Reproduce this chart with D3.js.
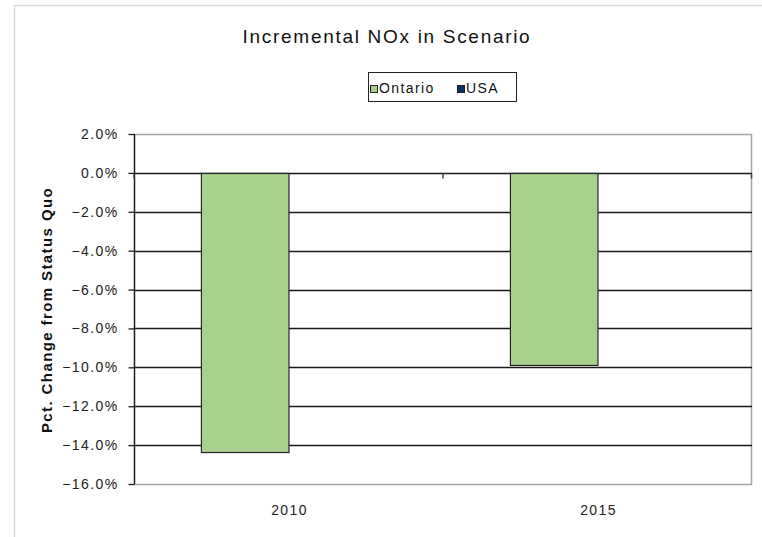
<!DOCTYPE html>
<html>
<head>
<meta charset="utf-8">
<script src="https://cdn.jsdelivr.net/npm/d3@7"></script>
<style>
  html, body { margin: 0; padding: 0; background: #fff; }
  svg { display: block; font-family: "Liberation Sans", Arial, sans-serif; }
</style>
</head>
<body>
<svg id="chart" width="762" height="537"></svg>
<script>
const categories = ["2010", "2015"];
const seriesNames = ["Ontario", "USA"];
const ontario = [-0.1435, -0.0987];
const usa = [0.0, 0.0];
const yTicks = [0.02, 0.0, -0.02, -0.04, -0.06, -0.08, -0.10, -0.12, -0.14, -0.16];
const colors = ["#A9D18E", "#0B2F5E"];

const svg = d3.select("#chart");
const L = 134, R = 752, T = 134, B = 484;

// outer frame (top & left visible)
svg.append("path").attr("d", "M14.5,537 L14.5,5.5 L762,5.5")
  .attr("fill", "none").attr("stroke", "#d9d9d9").attr("stroke-width", 1.5);

const y = d3.scaleLinear().domain([-0.16, 0.02]).range([B, T]);
const x0 = d3.scaleBand().domain(categories).range([L, R]).paddingInner(0).paddingOuter(0);
const x1 = d3.scaleBand().domain(seriesNames).range([0, x0.bandwidth()]).paddingInner(0).paddingOuter(0.764);

// plot area border
svg.append("rect").attr("x", L + 0.5).attr("y", T + 0.5).attr("width", R - L - 1).attr("height", B - T)
  .attr("fill", "none").attr("stroke", "#a6a6a6").attr("stroke-width", 1.5);

// gridlines
svg.append("g").selectAll("line").data(yTicks.filter(t => t < 0.02 && t > -0.16)).join("line")
  .attr("x1", L).attr("x2", R).attr("y1", d => Math.round(y(d)) + 0.5).attr("y2", d => Math.round(y(d)) + 0.5)
  .attr("stroke", "#1a1a1a").attr("stroke-width", 1.3);

// bars
const data = [];
categories.forEach((c, i) => {
  data.push({ cat: c, s: "Ontario", v: ontario[i] });
  data.push({ cat: c, s: "USA", v: usa[i] });
});
svg.append("g").selectAll("rect").data(data.filter(d => d.v !== 0)).join("rect")
  .attr("x", d => x0(d.cat) + x1(d.s) + 0.5)
  .attr("y", d => Math.round(y(Math.max(0, d.v))) + 0.5)
  .attr("width", x1.bandwidth())
  .attr("height", d => Math.abs(y(d.v) - y(0)))
  .attr("fill", d => colors[seriesNames.indexOf(d.s)])
  .attr("stroke", "#262626").attr("stroke-width", 1.2);

// y axis
const yAxis = d3.axisLeft(y).tickValues(yTicks).tickSize(6).tickPadding(10)
  .tickFormat(d => d3.format(".1f")(d * 100) + "%");
const ya = svg.append("g").attr("transform", `translate(${L + 0.5},0)`).call(yAxis);
ya.select(".domain").attr("stroke", "#1a1a1a").attr("stroke-width", 1.3).attr("d", `M0,${T}V${B}`);
ya.selectAll(".tick line").attr("stroke", "#1a1a1a").attr("stroke-width", 1.3);
ya.selectAll(".tick text").attr("font-size", 14).attr("fill", "#222")
  .attr("font-family", "Liberation Sans, Arial, sans-serif").style("letter-spacing", "1.4px");

// category axis ticks at zero
const zeroY = Math.round(y(0)) + 0.5;
svg.append("g").selectAll("line").data([...categories.map(c => x0(c)), R - 0.5]).join("line")
  .attr("x1", d => d).attr("x2", d => d).attr("y1", zeroY).attr("y2", zeroY + 5)
  .attr("stroke", "#444").attr("stroke-width", 1.5);

// category labels at bottom
svg.append("g").selectAll("text").data(categories).join("text")
  .attr("x", d => x0(d) + x0.bandwidth() / 2 + 1).attr("y", 515)
  .attr("text-anchor", "middle").attr("font-size", 14).attr("fill", "#222")
  .style("letter-spacing", "1.4px").text(d => d);

// title
svg.append("text").attr("x", 387).attr("y", 43).attr("text-anchor", "middle")
  .attr("font-size", 19).attr("fill", "#111").style("letter-spacing", "1.7px")
  .text("Incremental NOx in Scenario");

// y title
svg.append("text").attr("transform", "translate(52,310) rotate(-90)")
  .attr("text-anchor", "middle").attr("font-size", 15).attr("font-weight", "bold").attr("fill", "#111")
  .style("letter-spacing", "1.4px")
  .text("Pct. Change from Status Quo");

// legend
const lg = svg.append("g");
lg.append("rect").attr("x", 368.5).attr("y", 72.5).attr("width", 148).attr("height", 29)
  .attr("fill", "#fff").attr("stroke", "#222").attr("stroke-width", 1);
const items = [{ name: "Ontario", x: 370 }, { name: "USA", x: 457 }];
items.forEach((it, i) => {
  lg.append("rect").attr("x", it.x + 0.5).attr("y", 85.5).attr("width", 7).attr("height", 7)
    .attr("fill", colors[i]).attr("stroke", "#222").attr("stroke-width", 1);
  lg.append("text").attr("x", it.x + 9).attr("y", 93).attr("font-size", 14).attr("fill", "#111")
    .style("letter-spacing", "1.4px").text(it.name);
});
</script>
</body>
</html>
